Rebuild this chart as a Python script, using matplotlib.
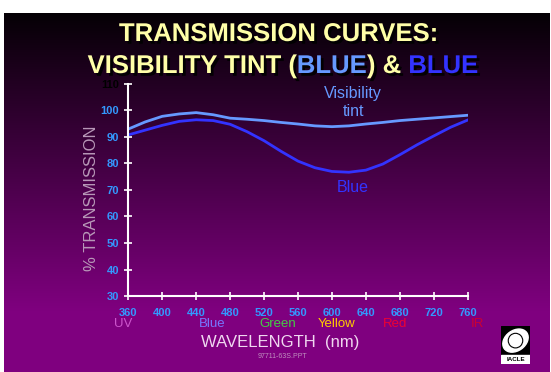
import numpy as np
import matplotlib
matplotlib.use("Agg")
import matplotlib.pyplot as plt
import matplotlib.patheffects as pe

# wavelength (nm) and % transmission
wavelength = [360, 380, 400, 420, 440, 460, 480, 500, 520, 540, 560,
              580, 600, 620, 640, 660, 680, 700, 720, 740, 760]
tint = [93.0, 95.7, 97.8, 98.7, 99.2, 98.4, 97.1, 96.7, 96.2, 95.5, 94.9,
        94.2, 93.9, 94.2, 94.9, 95.5, 96.2, 96.7, 97.2, 97.7, 98.2]
blue = [90.8, 92.6, 94.4, 95.9, 96.5, 96.2, 94.8, 92.0, 88.6, 84.6, 80.9,
        78.4, 77.0, 76.7, 77.5, 79.8, 83.3, 87.0, 90.4, 93.7, 96.4]

xticks = [360, 400, 440, 480, 520, 560, 600, 640, 680, 720, 760]
yticks = [30, 40, 50, 60, 70, 80, 90, 100, 110]
bands = ["UV", "Blue", "Green", "Yellow", "Red", "IR"]
band_x = [123, 212, 278, 337, 395, 477]
band_colors = ["#CC55CC", "#7777FF", "#44CC44", "#FFCC00", "#EE0033", "#CC0033"]

W, H = 551, 372
plt.rcParams['font.family'] = ['Liberation Sans', 'DejaVu Sans']

fig = plt.figure(figsize=(W / 100, H / 100), dpi=100, facecolor="white")

# slide background: black at top fading to purple
bg = fig.add_axes([4 / W, 0, (W - 5) / W, (H - 13) / H])
n = 300
t = np.clip(np.linspace(0, 1.2, n), 0, 1)
grad = np.zeros((n, 1, 3))
grad[:, 0, 0] = 0.02 + 0.48 * t
grad[:, 0, 2] = 0.02 + 0.48 * t
bg.imshow(grad, aspect="auto", extent=[0, 1, 0, 1], origin="upper")
bg.set_axis_off()


def px(x, y):
    return x / W, 1 - y / H


# title
cream = "#FFFFA8"
shadow = [pe.withSimplePatchShadow(offset=(2, -2), shadow_rgbFace="black", alpha=0.9)]
fig.text(*px(279, 34), "TRANSMISSION CURVES:", color=cream, fontsize=18.5,
         fontweight="bold", ha="center", va="center", path_effects=shadow)

parts = [("VISIBILITY TINT (", cream), ("BLUE", "#6699FF"), (") & ", cream), ("BLUE", "#3333FF")]
renderer = fig.canvas.get_renderer()
texts = []
for s, c in parts:
    texts.append(fig.text(0, 1 - 66 / H, s, color=c, fontsize=18.5, fontweight="bold",
                          ha="left", va="center", path_effects=shadow))
widths = [tx.get_window_extent(renderer).width for tx in texts]
x0 = 283 - sum(widths) / 2
for tx, w in zip(texts, widths):
    tx.set_x(x0 / W)
    x0 += w

# main plot
ax = fig.add_axes([128.3 / W, 76 / H, 339.4 / W, 212 / H])
ax.set_facecolor("none")
ax.plot(wavelength, tint, color="#6699FF", lw=2)
ax.plot(wavelength, blue, color="#3333FF", lw=2)
ax.set_xlim(360, 760)
ax.set_ylim(30, 110)
ax.set_xticks(xticks)
ax.set_yticks(yticks)
for sp in ["top", "right"]:
    ax.spines[sp].set_visible(False)
for sp in ["left", "bottom"]:
    ax.spines[sp].set_color("white")
    ax.spines[sp].set_linewidth(1.5)
ax.tick_params(colors="white", direction="inout", length=6, width=1.2)
ax.tick_params(axis="x", pad=6)
for lab in ax.get_xticklabels() + ax.get_yticklabels():
    lab.set_color("#3399FF")
    lab.set_fontweight("bold")
    lab.set_fontsize(8)
ax.get_yticklabels()[-1].set_color("black")

ax.text(625, 103, "Visibility\ntint", color="#6699FF", fontsize=11.5,
        ha="center", va="center", linespacing=1.2)
ax.text(625, 71, "Blue", color="#3333FF", fontsize=11.5, ha="center", va="center")

fig.text(*px(92, 198), "% TRANSMISSION", color="#B898B8", fontsize=12,
         rotation=90, ha="center", va="center")

for b, x, c in zip(bands, band_x, band_colors):
    fig.text(*px(x, 324), b, color=c, fontsize=9.5, ha="center", va="center")

fig.text(*px(280, 342), "WAVELENGTH  (nm)", color="#F0D8F0", fontsize=12,
         ha="center", va="center")
fig.text(*px(283, 356), "97711-63S.PPT", color="#C090C0", fontsize=5,
         ha="center", va="center")

# small logo in the corner
lg = fig.add_axes([501 / W, (H - 364) / H, 29 / W, 38 / H])
lg.set_xlim(0, 1)
lg.set_ylim(0, 1.3)
lg.add_patch(plt.Rectangle((0, 0.3), 1, 1, color="black"))
lg.add_patch(matplotlib.patches.Ellipse((0.5, 0.8), 0.95, 0.7, angle=35, color="white"))
lg.add_patch(plt.Circle((0.5, 0.8), 0.25, fill=False, color="black", lw=0.8))
lg.add_patch(plt.Rectangle((0, 0), 1, 0.3, color="white"))
lg.text(0.5, 0.14, "IACLE", fontsize=4.5, fontweight="bold", ha="center", va="center")
lg.set_axis_off()

fig.savefig("out.png", dpi=100, facecolor="white")
